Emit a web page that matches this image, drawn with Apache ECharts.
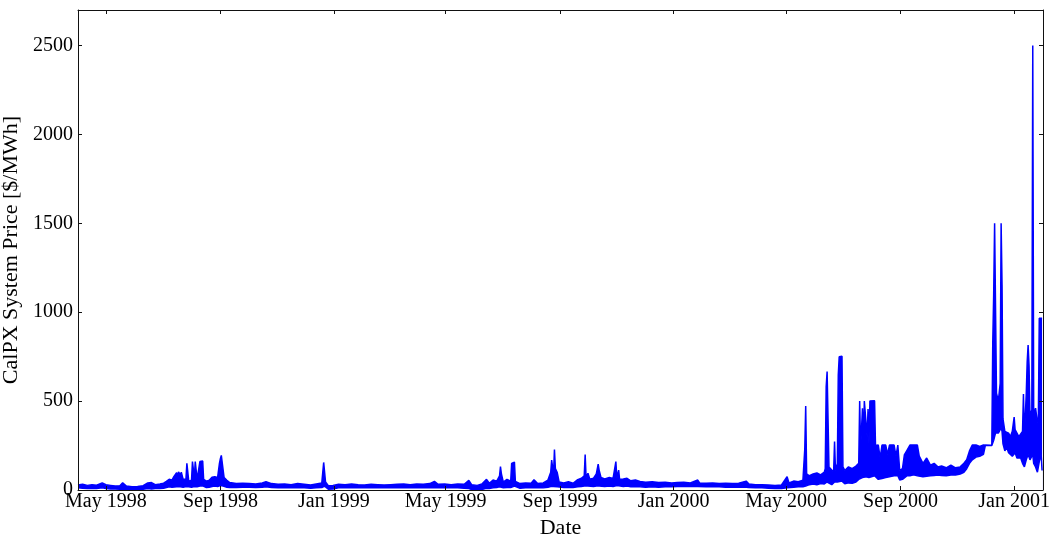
<!DOCTYPE html>
<html><head><meta charset="utf-8">
<script src="https://cdn.jsdelivr.net/npm/echarts@6/dist/echarts.min.js"></script>
<style>html,body{margin:0;padding:0;background:#fff}#c{width:1059px;height:538px}</style>
</head><body><div id="c"></div>
<script>
// [date, daily low, daily high] of the CalPX system price ($/MWh)
const prices1998 = [
["1998-04-01",12,28],["1998-04-06",10,32],["1998-04-11",8,26],["1998-04-16",10,30],["1998-04-21",9,27],
["1998-04-27",12,40],["1998-05-01",8,30],["1998-05-06",6,26],["1998-05-11",5,22],["1998-05-16",4,24],
["1998-05-19",6,40],["1998-05-23",3,22],["1998-05-29",3,18],["1998-06-04",2,20],["1998-06-10",4,24],
["1998-06-15",8,40],["1998-06-19",6,42],["1998-06-23",8,30],["1998-06-28",8,34],["1998-07-02",10,38],
["1998-07-05",14,48],["1998-07-08",18,60],["1998-07-11",16,55],["1998-07-13",20,75],["1998-07-16",18,98],
["1998-07-17",20,70],["1998-07-18",22,102],["1998-07-20",18,85],["1998-07-21",20,100],["1998-07-23",16,60],
["1998-07-26",20,62],["1998-07-27",22,150],["1998-07-28",24,156],["1998-07-29",18,50],["1998-08-01",16,55],
["1998-08-02",22,160],["1998-08-03",24,165],["1998-08-04",20,70],["1998-08-05",22,160],["1998-08-06",24,162],
["1998-08-07",18,60],["1998-08-09",16,58],["1998-08-10",22,160],["1998-08-13",24,163],["1998-08-14",18,60],
["1998-08-17",14,50],["1998-08-20",16,55],["1998-08-23",20,72],["1998-08-26",22,75],["1998-08-29",20,70],
["1998-08-31",24,150],["1998-09-01",25,176],["1998-09-02",26,195],["1998-09-03",24,185],["1998-09-04",22,110],
["1998-09-05",18,70],["1998-09-08",16,55],["1998-09-11",14,42],["1998-09-18",14,36],["1998-09-25",15,38],
["1998-10-02",16,36],["1998-10-09",14,34],["1998-10-16",16,40],["1998-10-20",18,46],["1998-10-26",14,36],
["1998-11-02",12,32],["1998-11-09",14,34],["1998-11-16",12,30],["1998-11-23",14,36],["1998-11-30",12,32],
["1998-12-07",10,28],["1998-12-13",12,34],["1998-12-19",14,40],["1998-12-21",20,155],["1998-12-22",22,165],
["1998-12-23",16,45],["1998-12-26",4,24],["1998-12-31",6,26]
];
const prices1999 = [
["1999-01-06",12,32],["1999-01-13",14,30],["1999-01-20",12,34],["1999-01-27",14,30],["1999-02-03",12,28],
["1999-02-10",14,32],["1999-02-17",12,30],["1999-02-24",14,28],["1999-03-03",12,30],["1999-03-10",14,32],
["1999-03-17",12,34],["1999-03-24",14,30],["1999-03-31",12,34],["1999-04-07",14,32],["1999-04-14",12,36],
["1999-04-19",14,48],["1999-04-23",12,32],["1999-04-30",14,34],["1999-05-07",12,30],["1999-05-14",12,34],
["1999-05-21",10,32],["1999-05-26",8,54],["1999-05-29",3,30],["1999-06-04",1,26],["1999-06-09",3,34],
["1999-06-14",10,60],["1999-06-17",8,38],["1999-06-21",12,56],["1999-06-25",14,50],["1999-06-28",18,80],
["1999-06-29",20,132],["1999-06-30",16,90],["1999-07-02",12,45],["1999-07-06",14,60],["1999-07-08",16,70],
["1999-07-10",14,50],["1999-07-11",20,150],["1999-07-14",22,157],["1999-07-15",14,48],["1999-07-20",10,36],
["1999-07-26",12,40],["1999-08-01",12,38],["1999-08-04",14,58],["1999-08-08",12,36],["1999-08-14",12,40],
["1999-08-19",16,56],["1999-08-22",20,100],["1999-08-23",22,168],["1999-08-25",20,90],["1999-08-26",22,228],
["1999-08-27",20,120],["1999-08-29",18,98],["1999-08-31",14,45],["1999-09-05",14,40],["1999-09-10",16,46],
["1999-09-15",14,38],["1999-09-20",18,58],["1999-09-24",20,66],["1999-09-27",22,80],["1999-09-28",24,200],
["1999-09-29",20,70],["1999-10-01",22,94],["1999-10-03",18,60],["1999-10-07",20,66],["1999-10-10",22,90],
["1999-10-12",24,146],["1999-10-13",22,112],["1999-10-15",20,70],["1999-10-19",20,62],["1999-10-24",22,70],
["1999-10-28",20,65],["1999-10-31",24,160],["1999-11-01",22,70],["1999-11-03",24,112],["1999-11-04",20,60],
["1999-11-08",20,62],["1999-11-12",22,66],["1999-11-16",18,52],["1999-11-21",20,56],["1999-11-26",18,48],
["1999-12-02",16,44],["1999-12-09",18,46],["1999-12-16",16,42],["1999-12-23",18,44],["1999-12-30",18,40]
];
const prices2000 = [
["2000-01-05",20,42],["2000-01-12",20,44],["2000-01-19",20,40],["2000-01-27",20,56],["2000-01-29",20,40],
["2000-02-05",18,38],["2000-02-12",18,40],["2000-02-19",18,36],["2000-02-26",16,38],["2000-03-04",16,36],
["2000-03-11",16,38],["2000-03-19",16,50],["2000-03-22",14,34],["2000-03-29",12,30],["2000-04-05",12,30],
["2000-04-12",10,28],["2000-04-19",8,26],["2000-04-26",8,28],["2000-05-02",12,75],["2000-05-04",14,40],
["2000-05-09",16,50],["2000-05-14",18,46],["2000-05-19",18,55],["2000-05-21",20,230],["2000-05-22",22,472],
["2000-05-23",20,90],["2000-05-26",30,80],["2000-05-30",34,90],["2000-06-03",30,96],["2000-06-07",36,85],
["2000-06-11",34,100],["2000-06-12",40,120],["2000-06-13",45,580],["2000-06-14",45,666],["2000-06-15",45,660],
["2000-06-16",40,130],["2000-06-19",30,112],["2000-06-21",40,100],["2000-06-22",45,272],["2000-06-23",40,110],
["2000-06-25",45,150],["2000-06-26",50,647],["2000-06-27",50,750],["2000-06-30",50,752],["2000-07-01",40,130],
["2000-07-03",35,110],["2000-07-07",40,130],["2000-07-11",38,120],["2000-07-15",45,135],["2000-07-18",60,150],
["2000-07-19",70,500],["2000-07-20",60,230],["2000-07-22",70,460],["2000-07-23",60,250],["2000-07-24",75,500],
["2000-07-26",75,500],["2000-07-27",70,300],["2000-07-28",75,455],["2000-07-29",70,260],["2000-07-30",75,500],
["2000-08-04",80,502],["2000-08-05",70,250],["2000-08-08",60,253],["2000-08-10",70,180],["2000-08-12",65,253],
["2000-08-16",70,253],["2000-08-18",70,200],["2000-08-20",75,253],["2000-08-25",80,253],["2000-08-27",75,190],
["2000-08-29",80,253],["2000-08-31",56,110],["2000-09-03",60,120],["2000-09-05",70,197],["2000-09-08",80,225],
["2000-09-11",80,253],["2000-09-15",85,253],["2000-09-19",80,253],["2000-09-21",80,190],["2000-09-25",75,150],
["2000-09-29",78,180],["2000-10-03",80,140],["2000-10-07",82,150],["2000-10-11",84,130],["2000-10-15",82,135],
["2000-10-20",80,125],["2000-10-25",84,140],["2000-10-30",84,125],["2000-11-04",90,130],["2000-11-08",100,150],
["2000-11-11",120,170],["2000-11-14",150,220],["2000-11-17",170,253],["2000-11-21",185,253],["2000-11-25",190,245],
["2000-11-29",200,253],["2000-12-01",250,250],["2000-12-08",250,250],["2000-12-09",250,825],["2000-12-10",280,1100],
["2000-12-11",300,1500],["2000-12-12",320,1500],["2000-12-13",320,545],["2000-12-15",320,500],["2000-12-17",330,600],
["2000-12-18",350,1500],["2000-12-19",330,1150],["2000-12-20",260,400],["2000-12-22",220,330],["2000-12-24",240,340],
["2000-12-26",210,320],["2000-12-28",200,300],["2000-12-30",190,330]
];
const prices2001 = [
["2001-01-01",200,410],["2001-01-02",210,340],["2001-01-04",180,320],["2001-01-06",170,300],["2001-01-08",180,310],
["2001-01-10",150,330],["2001-01-11",160,540],["2001-01-12",130,300],["2001-01-14",170,540],["2001-01-15",180,720],
["2001-01-16",200,815],["2001-01-17",190,700],["2001-01-18",170,420],["2001-01-20",160,450],["2001-01-21",200,2500],
["2001-01-22",150,420],["2001-01-24",130,460],["2001-01-26",100,380],["2001-01-27",110,400],["2001-01-28",160,966],
["2001-01-30",200,966],["2001-01-31",110,966]
];

const tickDates = ["1998-05-01","1998-09-01","1999-01-01","1999-05-01","1999-09-01","2000-01-01","2000-05-01","2000-09-01","2001-01-01"];
const tickLabels = ["May 1998","Sep 1998","Jan 1999","May 1999","Sep 1999","Jan 2000","May 2000","Sep 2000","Jan 2001"];
const yTicks = [0,500,1000,1500,2000,2500];
const xStart = "1998-04-01", xEnd = "2001-02-01";

const toTs = s => { const p = s.split('-').map(Number); return Date.UTC(p[0], p[1]-1, p[2]); };
const all = prices1998.concat(prices1999, prices2000, prices2001);
const highData = all.map(r => [toTs(r[0]), r[2]]);
const lowData = all.map(r => [toTs(r[0]), r[1]]);
const tickTs = tickDates.map(toTs);
const FONT = 'Liberation Serif';
const fmtX = v => { let b = 0; for (let i = 1; i < tickTs.length; i++) if (Math.abs(tickTs[i]-v) < Math.abs(tickTs[b]-v)) b = i; return tickLabels[b]; };
const frame = {show:true, onZero:false, lineStyle:{color:'#111', width:1}};
const tickX = {show:true, inside:true, length:4, customValues:tickTs, lineStyle:{color:'#111', width:1}};
const tickY = {show:true, inside:true, length:4, customValues:yTicks, lineStyle:{color:'#111', width:1}};

const chart = echarts.init(document.getElementById('c'), null, {renderer:'canvas'});
chart.setOption({
  animation:false,
  backgroundColor:'#fff',
  grid:{left:78, right:16, top:10, bottom:48, containLabel:false, outerBoundsMode:'none'},
  xAxis:[
    {type:'value', min:toTs(xStart), max:toTs(xEnd), position:'bottom', z:5, scale:true,
     axisLine:frame, axisTick:tickX, splitLine:{show:false}, minorTick:{show:false},
     axisLabel:{customValues:tickTs, formatter:fmtX, fontFamily:FONT, fontSize:20, color:'#000', margin:2, hideOverlap:false},
     name:'Date', nameLocation:'middle', nameGap:23, nameTextStyle:{fontFamily:FONT, fontSize:22, color:'#000'}},
    {type:'value', min:toTs(xStart), max:toTs(xEnd), position:'top', z:5, scale:true,
     axisLine:frame, axisTick:tickX, axisLabel:{show:false}, splitLine:{show:false}}
  ],
  yAxis:[
    {type:'value', min:0, max:2700, position:'left', z:5,
     axisLine:frame, axisTick:tickY, splitLine:{show:false},
     axisLabel:{customValues:yTicks, formatter:v => String(v), fontFamily:FONT, fontSize:20, color:'#000', margin:5},
     name:'CalPX System Price [$/MWh]', nameLocation:'middle', nameGap:47, nameRotate:90,
     nameTextStyle:{fontFamily:FONT, fontSize:22, color:'#000'}},
    {type:'value', min:0, max:2700, position:'right', z:5,
     axisLine:frame, axisTick:tickY, axisLabel:{show:false}, splitLine:{show:false}}
  ],
  series:[
    {type:'line', xAxisIndex:0, yAxisIndex:0, data:highData, symbol:'none', z:2,
     lineStyle:{color:'#0000ff', width:1.5}, areaStyle:{color:'#0000ff', opacity:1}},
    {type:'line', xAxisIndex:0, yAxisIndex:0, data:lowData, symbol:'none', z:3,
     lineStyle:{color:'#0000ff', width:1.5}, areaStyle:{color:'#ffffff', opacity:1}}
  ]
});
</script></body></html>
